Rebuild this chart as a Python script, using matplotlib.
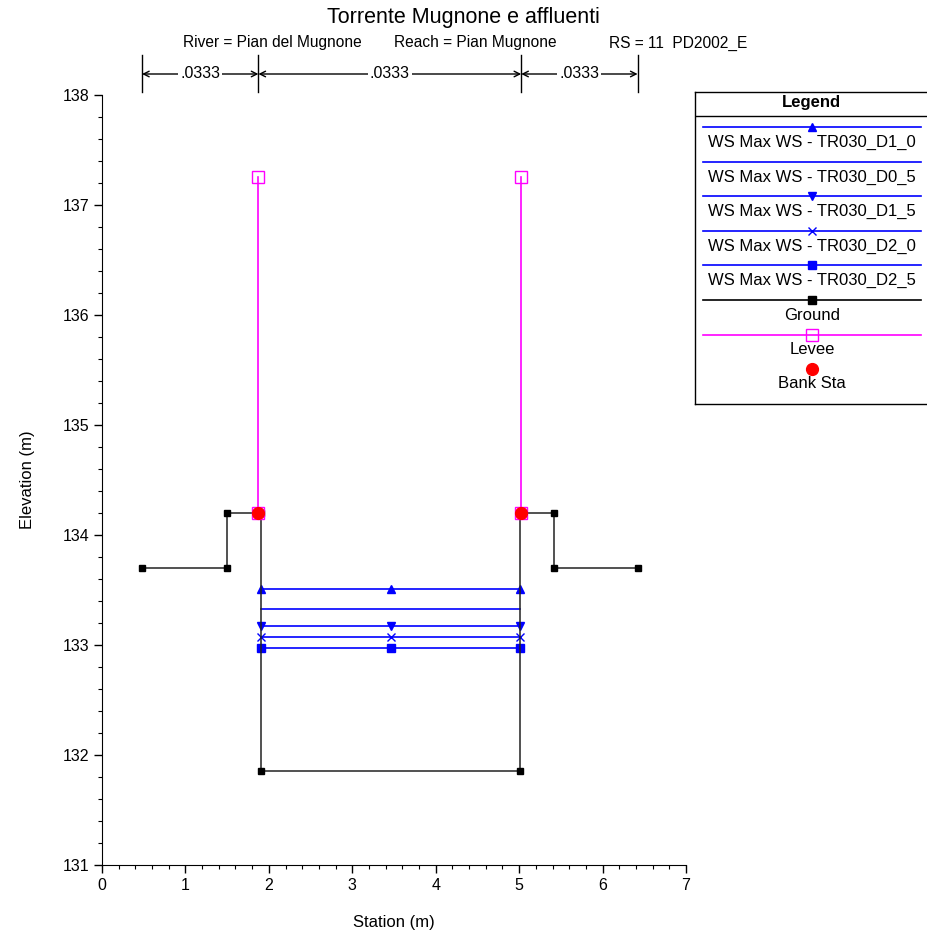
import matplotlib
matplotlib.use("Agg")
import matplotlib.pyplot as plt
from matplotlib.ticker import MultipleLocator
import matplotlib.transforms as mtransforms

plt.rcParams['font.family'] = ['Liberation Sans', 'DejaVu Sans']

# ---- data ----
ground_x = [0.48, 1.50, 1.50, 1.91, 1.91, 5.01, 5.01, 5.42, 5.42, 6.42]
ground_y = [133.70, 133.70, 134.20, 134.20, 131.85, 131.85, 134.20, 134.20, 133.70, 133.70]
levee_left_x = [1.875, 1.875]
levee_right_x = [5.025, 5.025]
levee_y = [134.20, 137.25]
bank_x = [1.875, 5.025]
bank_y = [134.20, 134.20]
ws_x = [1.91, 3.46, 5.01]
ws_names = ["WS Max WS - TR030_D1_0", "WS Max WS - TR030_D0_5", "WS Max WS - TR030_D1_5",
            "WS Max WS - TR030_D2_0", "WS Max WS - TR030_D2_5"]
ws_levels = [133.51, 133.325, 133.175, 133.07, 132.97]
ws_markers = ['^', None, 'v', 'x', 's']
n_bounds = [0.48, 1.875, 5.025, 6.42]
n_values = [".0333", ".0333", ".0333"]

W, H = 927, 932
fig = plt.figure(figsize=(W / 100, H / 100), dpi=100)

def px(x0, y0, x1, y1):
    return [x0 / W, 1 - y1 / H, (x1 - x0) / W, (y1 - y0) / H]

ax = fig.add_axes(px(102, 95, 686, 865))
ax.set_xlim(0, 7)
ax.set_ylim(131, 138)
for s in ['top', 'right']:
    ax.spines[s].set_visible(False)
ax.xaxis.set_major_locator(MultipleLocator(1))
ax.xaxis.set_minor_locator(MultipleLocator(0.2))
ax.yaxis.set_major_locator(MultipleLocator(1))
ax.yaxis.set_minor_locator(MultipleLocator(0.2))
ax.tick_params(which='major', length=6, width=1, labelsize=11.5, pad=3)
ax.tick_params(which='minor', length=3, width=0.8)
ax.set_xlabel("Station (m)", fontsize=12, labelpad=16)
ax.set_ylabel("Elevation (m)", fontsize=12, labelpad=20)

blue = '#0000ff'
for name, lvl, mk in zip(ws_names, ws_levels, ws_markers):
    ax.plot(ws_x, [lvl] * len(ws_x), color=blue, lw=1.2, marker=mk,
            markersize=5.5, markeredgewidth=1)

ax.plot(ground_x, ground_y, color='#222222', lw=1.1, marker='s', markersize=5,
        markerfacecolor='black', markeredgecolor='black', zorder=3)
for lx in (levee_left_x, levee_right_x):
    ax.plot(lx, levee_y, color='#ff00ff', lw=1.2, marker='s', markersize=9,
            markerfacecolor='none', markeredgewidth=1, zorder=4)
ax.plot(bank_x, bank_y, 'o', color='red', markersize=8.5, zorder=5, clip_on=False)

# n-value annotations above the plot
trans = mtransforms.blended_transform_factory(ax.transData, ax.transAxes)
ya = (865 - 74) / 770
for b in n_bounds:
    ax.plot([b, b], [(865 - 55) / 770, (865 - 92) / 770], color='black', lw=1,
            transform=trans, clip_on=False)
for i, v in enumerate(n_values):
    a, b = n_bounds[i], n_bounds[i + 1]
    ax.annotate("", xy=(a, ya), xytext=(b, ya), xycoords=trans, textcoords=trans,
                arrowprops=dict(arrowstyle='<->', color='black', lw=1,
                                shrinkA=0, shrinkB=0, mutation_scale=10))
    ax.text((a + b) / 2, ya, v, transform=trans, ha='center', va='center',
            fontsize=11.5, bbox=dict(facecolor='white', edgecolor='none', pad=1.5),
            clip_on=False)

# titles
fig.text(463 / W, 1 - 18 / H, "Torrente Mugnone e affluenti", ha='center', va='center', fontsize=15.5)
fig.text(183 / W, 1 - 43 / H, "River = Pian del Mugnone", ha='left', va='center', fontsize=11.2)
fig.text(394 / W, 1 - 43 / H, "Reach = Pian Mugnone", ha='left', va='center', fontsize=11.2)
fig.text(609 / W, 1 - 43 / H, "RS = 11  PD2002_E", ha='left', va='center', fontsize=11.2)

# legend box
lax = fig.add_axes(px(695, 92, 927, 404))
lax.set_xlim(695, 927)
lax.set_ylim(404, 92)
lax.set_xticks([])
lax.set_yticks([])
for s in lax.spines.values():
    s.set_linewidth(1)
lax.spines['right'].set_visible(False)
lax.text(811, 103, "Legend", ha='center', va='center', fontsize=12, fontweight='bold')
lax.plot([695, 927], [116, 116], color='black', lw=1)
line_y = [127, 161.5, 196, 230.5, 265, 300, 334.5]
text_y = [142, 177, 211, 246, 280, 315, 350]
for i, (name, mk) in enumerate(zip(ws_names, ws_markers)):
    lax.plot([703, 921], [line_y[i]] * 2, color=blue, lw=1.2)
    if mk:
        lax.plot([812], [line_y[i]], marker=mk, color=blue, markersize=6)
    lax.text(812, text_y[i], name, ha='center', va='center', fontsize=12)
lax.plot([703, 921], [line_y[5]] * 2, color='black', lw=1.2)
lax.plot([812], [line_y[5]], 's', color='black', markersize=5.5)
lax.text(812, text_y[5], "Ground", ha='center', va='center', fontsize=12)
lax.plot([703, 921], [line_y[6]] * 2, color='#ff00ff', lw=1.2)
lax.plot([812], [line_y[6]], 's', color='#ff00ff', markersize=9, markerfacecolor='none')
lax.text(812, text_y[6], "Levee", ha='center', va='center', fontsize=12)
lax.plot([812], [369], 'o', color='red', markersize=8.5)
lax.text(812, 384, "Bank Sta", ha='center', va='center', fontsize=12)

fig.savefig("out.png", dpi=100)
